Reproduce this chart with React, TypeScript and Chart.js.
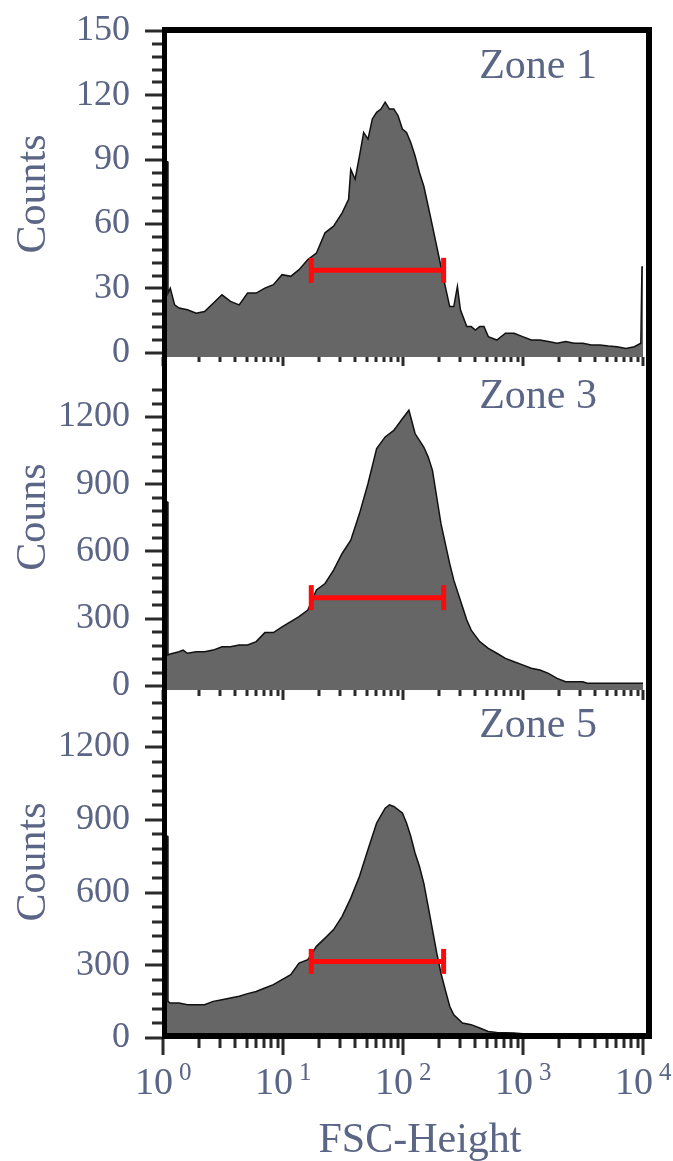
import React, { useEffect, useRef } from 'react';
import { Chart, registerables } from 'chart.js';

Chart.register(...registerables);

// ---------------- DATA ----------------
// FSC-Height channel positions (log axis) and event counts
const zone1Fsc = [1.0, 1.09, 1.10, 1.15, 1.25, 1.36, 1.60, 1.89, 2.22, 2.62, 3.10, 3.65, 4.31, 5.07, 5.98, 7.06, 8.32, 9.82, 11.6, 13.6, 16.1, 19.0, 22.4, 26.4, 31.1, 35.2, 36.7, 39.9, 43.4, 47.0, 51.1, 55.5, 60.3, 65.5, 71.0, 77.1, 83.8, 91.0, 98.8, 107, 116, 126, 137, 149, 162, 176, 191, 207, 225, 245, 265, 284, 301, 340, 370, 401, 436, 473, 514, 605, 714, 843, 993, 1172, 1384, 1629, 1923, 2265, 2673, 3155, 3715, 4385, 5164, 6095, 7194, 8472, 9594, 9800, 10000];
const zone1Counts = [89, 89, 27.8, 30.1, 22.3, 20.8, 20.0, 18.4, 19.2, 23.1, 27.0, 23.9, 22.3, 27.8, 27.8, 30.1, 31.7, 36.4, 35.6, 38.7, 43.4, 46.5, 55.9, 59.0, 65.2, 71.5, 85.5, 80.9, 91.8, 102.7, 99.6, 109.0, 112.1, 113.6, 116.8, 113.6, 113.6, 110.5, 104.3, 102.7, 98.0, 91.8, 84.0, 77.7, 68.4, 59.0, 49.6, 40.3, 30.9, 21.5, 21.5, 30.9, 20.0, 12.2, 12.2, 10.6, 12.2, 12.2, 7.5, 5.9, 9.1, 9.1, 7.5, 5.9, 5.9, 5.2, 4.4, 5.2, 4.4, 4.4, 3.6, 3.6, 3.1, 2.8, 2.0, 2.8, 4.4, 40, 40];

const zone3Fsc = [1.0, 1.09, 1.10, 1.15, 1.36, 1.47, 1.60, 1.89, 2.22, 2.62, 3.10, 3.65, 4.31, 5.07, 5.98, 7.06, 8.32, 9.82, 11.6, 13.6, 16.1, 19.0, 22.4, 26.4, 31.1, 36.7, 43.4, 51.1, 60.3, 71.0, 83.8, 98.8, 112, 116, 126, 149, 162, 176, 191, 207, 225, 245, 265, 288, 313, 340, 370, 436, 514, 605, 714, 843, 993, 1172, 1384, 1629, 1923, 2265, 3155, 3420, 10000];
const zone3Counts = [821, 821, 138, 143, 153, 160, 146, 153, 153, 160, 175, 175, 183, 183, 198, 238, 238, 264, 287, 309, 339, 428, 457, 517, 591, 650, 769, 903, 1059, 1111, 1140, 1192, 1230, 1200, 1126, 1066, 1022, 962, 843, 725, 636, 546, 472, 413, 353, 294, 249, 198, 168, 146, 123, 108, 94, 79, 71, 56, 34, 19, 19, 12, 12];

const zone5Fsc = [1.0, 1.09, 1.10, 1.15, 1.36, 1.60, 1.89, 2.22, 2.62, 3.10, 3.65, 4.31, 5.07, 5.98, 7.06, 8.32, 9.82, 11.6, 13.6, 16.1, 19.0, 22.4, 26.4, 31.1, 36.7, 43.4, 51.1, 60.3, 71.0, 77.1, 83.8, 98.8, 107, 116, 126, 137, 149, 162, 176, 191, 207, 225, 245, 265, 313, 370, 436, 514, 605, 843, 993, 1172, 10000];
const zone5Counts = [832, 832, 151, 144, 144, 137, 137, 137, 151, 158, 165, 172, 183, 192, 206, 220, 241, 261, 309, 323, 378, 412, 447, 502, 577, 667, 777, 887, 948, 962, 955, 928, 887, 832, 763, 708, 639, 543, 447, 351, 268, 199, 131, 96, 62, 55, 41, 27, 23, 21, 18, 14, 10];

// red gate (marker range) and its level in each panel
const gateRange = [17.2, 218];
const gateLevels = [38.4, 394, 316];

// labels
const zoneNames = ['Zone 1', 'Zone 3', 'Zone 5'];
const yTitles = ['Counts', 'Couns', 'Counts'];
const xTitle = 'FSC-Height';
const xMajorTicks = [1, 10, 100, 1000, 10000];
const xTickExponents = ['0', '1', '2', '3', '4'];
const yLabelSteps = [30, 300, 300];
const yMinorSteps = [6, 60, 60];

// ---------------- LAYOUT / STYLE ----------------
const W = 673;
const H = 1161;
const PLOT_LEFT = 163;
const PLOT_RIGHT = 643;
const TEXT = '#5b6585';
const TICK = '#2b2b2b';
const RED = '#ff0a0a';
const FONT = '"Liberation Serif", "Times New Roman", serif';

const PANELS = [
  { top: 31, bottom: 357, min: -2, max: 150, xTickOff: 0, xMajorLen: 9, xMinorLen: 5, zoneBase: 78, titleY: 194 },
  { top: 382, bottom: 690, min: -18, max: 1356, xTickOff: 0, xMajorLen: 10, xMinorLen: 6, zoneBase: 408, titleY: 517 },
  { top: 700, bottom: 1038, min: 0, max: 1394, xTickOff: 1, xMajorLen: 16, xMinorLen: 9, zoneBase: 737, titleY: 862 },
];

const series = [
  [zone1Fsc, zone1Counts],
  [zone3Fsc, zone3Counts],
  [zone5Fsc, zone5Counts],
];

function isDecade(v: number) {
  const l = Math.log10(v);
  return Math.abs(l - Math.round(l)) < 1e-9;
}
function isHalfTick(v: number) {
  const m = v / Math.pow(10, Math.floor(Math.log10(v) + 1e-9));
  return Math.abs(m - 1.5) < 1e-6;
}

function makePlugin(i: number) {
  return {
    id: 'panelDecor' + i,
    afterDraw(chart: any) {
      const ctx = chart.ctx as CanvasRenderingContext2D;
      const p = PANELS[i];
      const xs = chart.scales.x;
      const ys = chart.scales.y;
      const area = chart.chartArea;
      ctx.save();
      // y tick marks
      ctx.strokeStyle = TICK;
      ctx.lineWidth = 3;
      ys.ticks.forEach((t: any) => {
        if (t.value < 0) return;
        const y = Math.round(ys.getPixelForValue(t.value));
        const len = t.value % yLabelSteps[i] === 0 ? 18 : 11;
        ctx.beginPath();
        ctx.moveTo(area.left - len, y);
        ctx.lineTo(area.left, y);
        ctx.stroke();
      });
      // x tick marks
      xs.ticks.forEach((t: any) => {
        if (isHalfTick(t.value)) return;
        const x = Math.round(xs.getPixelForValue(t.value));
        const len = isDecade(t.value) ? p.xMajorLen : p.xMinorLen;
        const y0 = area.bottom + p.xTickOff;
        ctx.beginPath();
        ctx.moveTo(x, y0);
        ctx.lineTo(x, y0 + len);
        ctx.stroke();
      });
      // zone label
      ctx.fillStyle = TEXT;
      ctx.font = '42px ' + FONT;
      ctx.textAlign = 'right';
      ctx.textBaseline = 'alphabetic';
      ctx.fillText(zoneNames[i], 597, p.zoneBase);
      // y title
      ctx.save();
      ctx.translate(45, p.titleY);
      ctx.rotate(-Math.PI / 2);
      ctx.textAlign = 'center';
      ctx.fillText(yTitles[i], 0, 0);
      ctx.restore();

      if (i === PANELS.length - 1) {
        // x tick labels with superscript exponents
        xMajorTicks.forEach((v, k) => {
          const x = xs.getPixelForValue(v);
          ctx.font = '38px ' + FONT;
          ctx.textAlign = 'right';
          ctx.fillText('10', x + 10, 1094);
          ctx.font = '25px ' + FONT;
          ctx.textAlign = 'left';
          ctx.fillText(xTickExponents[k], x + 16, 1080);
        });
        ctx.font = '42px ' + FONT;
        ctx.textAlign = 'center';
        ctx.fillText(xTitle, 420, 1152);
        // frame around the stacked panels
        ctx.fillStyle = '#000';
        ctx.fillRect(162, 27, 5, 1012);
        ctx.fillRect(162, 27, 490, 6);
        ctx.fillRect(646, 27, 6, 1012);
        ctx.fillRect(162, 1033, 490, 6);
      }
      ctx.restore();
    },
  };
}

function makeConfig(i: number): any {
  const p = PANELS[i];
  const [fsc, counts] = series[i];
  return {
    type: 'line',
    data: {
      datasets: [
        {
          label: 'gate',
          data: gateRange.map((x) => ({ x, y: gateLevels[i] })),
          borderColor: RED,
          borderWidth: 5,
          pointStyle: 'line',
          pointRadius: 12.5,
          pointRotation: 90,
          pointBorderColor: RED,
          pointBorderWidth: 5,
          pointHoverRadius: 12.5,
          fill: false,
          order: 0,
        },
        {
          label: zoneNames[i],
          data: fsc.map((x, j) => ({ x, y: counts[j] })),
          borderColor: '#111111',
          borderWidth: 1.5,
          backgroundColor: '#666666',
          fill: 'start',
          pointRadius: 0,
          tension: 0,
          order: 1,
        },
      ],
    },
    options: {
      animation: false,
      responsive: false,
      events: [],
      layout: { padding: { left: 0, right: W - PLOT_RIGHT, top: p.top, bottom: H - p.bottom } },
      plugins: { legend: { display: false }, tooltip: { enabled: false }, title: { display: false } },
      scales: {
        x: {
          type: 'logarithmic',
          min: 1,
          max: 10000,
          grid: { display: false, drawTicks: false },
          border: { display: false },
          ticks: { display: false },
          afterFit: (s: any) => {
            s.height = 0;
            s.paddingLeft = 0;
            s.paddingRight = 0;
            s.paddingTop = 0;
            s.paddingBottom = 0;
          },
        },
        y: {
          type: 'linear',
          min: p.min,
          max: p.max,
          grid: { display: false, drawTicks: false },
          border: { display: false },
          afterBuildTicks: (s: any) => {
            const out: { value: number }[] = [];
            for (let v = 0; v <= s.max + 1e-9; v += yMinorSteps[i]) out.push({ value: v });
            s.ticks = out;
          },
          ticks: {
            autoSkip: false,
            padding: 33,
            color: TEXT,
            font: { family: FONT, size: 36 },
            callback: (v: number) => (v >= 0 && v % yLabelSteps[i] === 0 ? String(v) : ''),
          },
          afterFit: (s: any) => {
            s.width = PLOT_LEFT;
            s.paddingTop = 0;
            s.paddingBottom = 0;
            s.paddingLeft = 0;
            s.paddingRight = 0;
          },
        },
      },
    },
    plugins: [makePlugin(i)],
  };
}

export default function App() {
  const r0 = useRef<HTMLCanvasElement>(null);
  const r1 = useRef<HTMLCanvasElement>(null);
  const r2 = useRef<HTMLCanvasElement>(null);
  useEffect(() => {
    const refs = [r0, r1, r2];
    const charts = refs.map((r, i) => new Chart(r.current as HTMLCanvasElement, makeConfig(i)));
    return () => charts.forEach((c) => c.destroy());
  }, []);
  const cs: React.CSSProperties = { position: 'absolute', left: 0, top: 0, width: W, height: H };
  return (
    <div style={{ position: 'absolute', left: 0, top: 0, width: W, height: H, background: '#ffffff' }}>
      <canvas ref={r0} width={W} height={H} style={cs} />
      <canvas ref={r1} width={W} height={H} style={cs} />
      <canvas ref={r2} width={W} height={H} style={cs} />
    </div>
  );
}
